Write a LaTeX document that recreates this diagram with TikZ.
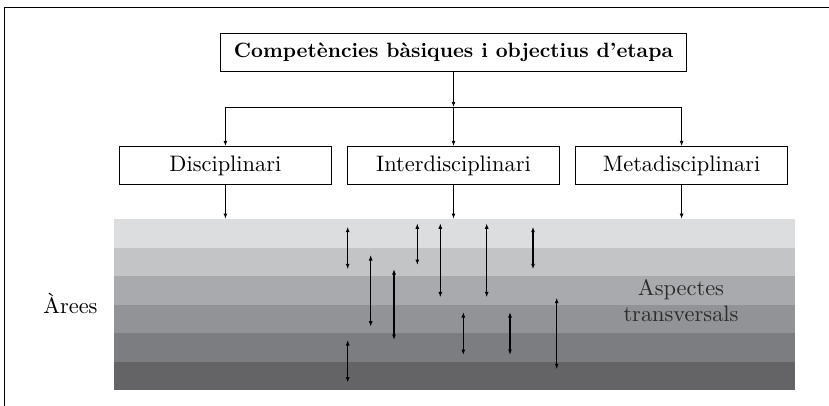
\documentclass[tikz,border=0pt]{standalone}
\usepackage{fontspec}
\setmainfont{lmroman10-regular.otf}[BoldFont=lmroman10-bold.otf]
\usetikzlibrary{arrows.meta}
\usetikzlibrary{positioning}
\definecolor{bandA}{HTML}{DCDDDF}
\definecolor{bandB}{HTML}{C3C4C6}
\definecolor{bandC}{HTML}{A9AAAD}
\definecolor{bandD}{HTML}{929396}
\definecolor{bandE}{HTML}{7C7D80}
\definecolor{bandF}{HTML}{646466}
\definecolor{asptext}{HTML}{2B2B2B}
\begin{document}
\begin{tikzpicture}[x=1pt,y=-1pt,node distance=15pt,>={Latex[length=5.5pt,width=4pt]},line width=1.1pt,
  box/.style={draw,inner sep=0pt,minimum width=212pt,minimum height=38pt,font=\fontsize{22.4}{26}\selectfont}]
\useasboundingbox (0,0) rectangle (829,406);
%frame
\draw[line width=1.5pt] (4.7,410) |- (833,7.3);
%bands
\foreach \c [count=\i from 0] in {bandA,bandB,bandC,bandD,bandE,bandF}
  \fill[\c] (114,{219+28.5*\i}) rectangle (795,{247.5+28.5*\i});
\coordinate (bandtop) at (0,219);
\path node[box,minimum width=466pt,minimum height=38.5pt,font=\fontsize{20.7}{24}\selectfont\bfseries] (top) at (453.5,52.5) {Competències bàsiques i objectius d’etapa};
\path node[box,below=74pt of top] (inter) {Interdisciplinari};
\path node[box,left=of inter] (disc) {Disciplinari};
\path node[box,right=of inter] (meta) {Metadisciplinari};
\coordinate[below=35pt of top.south] (split);
\draw[->] (top) -- (split);
\draw (split -| disc) -- (split -| meta);
\draw[->] (split -| disc) -- (disc);
\draw[->] (split) -- (inter);
\draw[->] (split -| meta) -- (meta);
\draw[->] (disc) -- (disc |- bandtop);
\draw[->] (inter) -- (inter |- bandtop);
\draw[->] (meta) -- (meta |- bandtop);
%transversal arrows
\foreach \x/\ya/\yb [count=\k] in {347.7/226.7/269.3, 370.7/255/326.7, 394/269/340, 417.3/223.3/265, 440.3/223.3/297.3, 486.7/223.3/297.3, 533/226.7/269.3, 463.3/312/355, 510/312/355, 556.7/297.7/369.3, 347.7/340/382.7}{
  \coordinate (a\k) at (\x,\ya);
  \coordinate (b\k) at (\x,\yb);
  \draw[<->] (a\k) -- (b\k);
}
\path node[anchor=base,font=\fontsize{22.4}{26}\selectfont] (areas) at (70.4,313) {Àrees};
\path node[align=center,text=asptext,font=\fontsize{22.4}{26}\selectfont] (asp) at (681,301) {Aspectes\\transversals};
\end{tikzpicture}
\end{document}
